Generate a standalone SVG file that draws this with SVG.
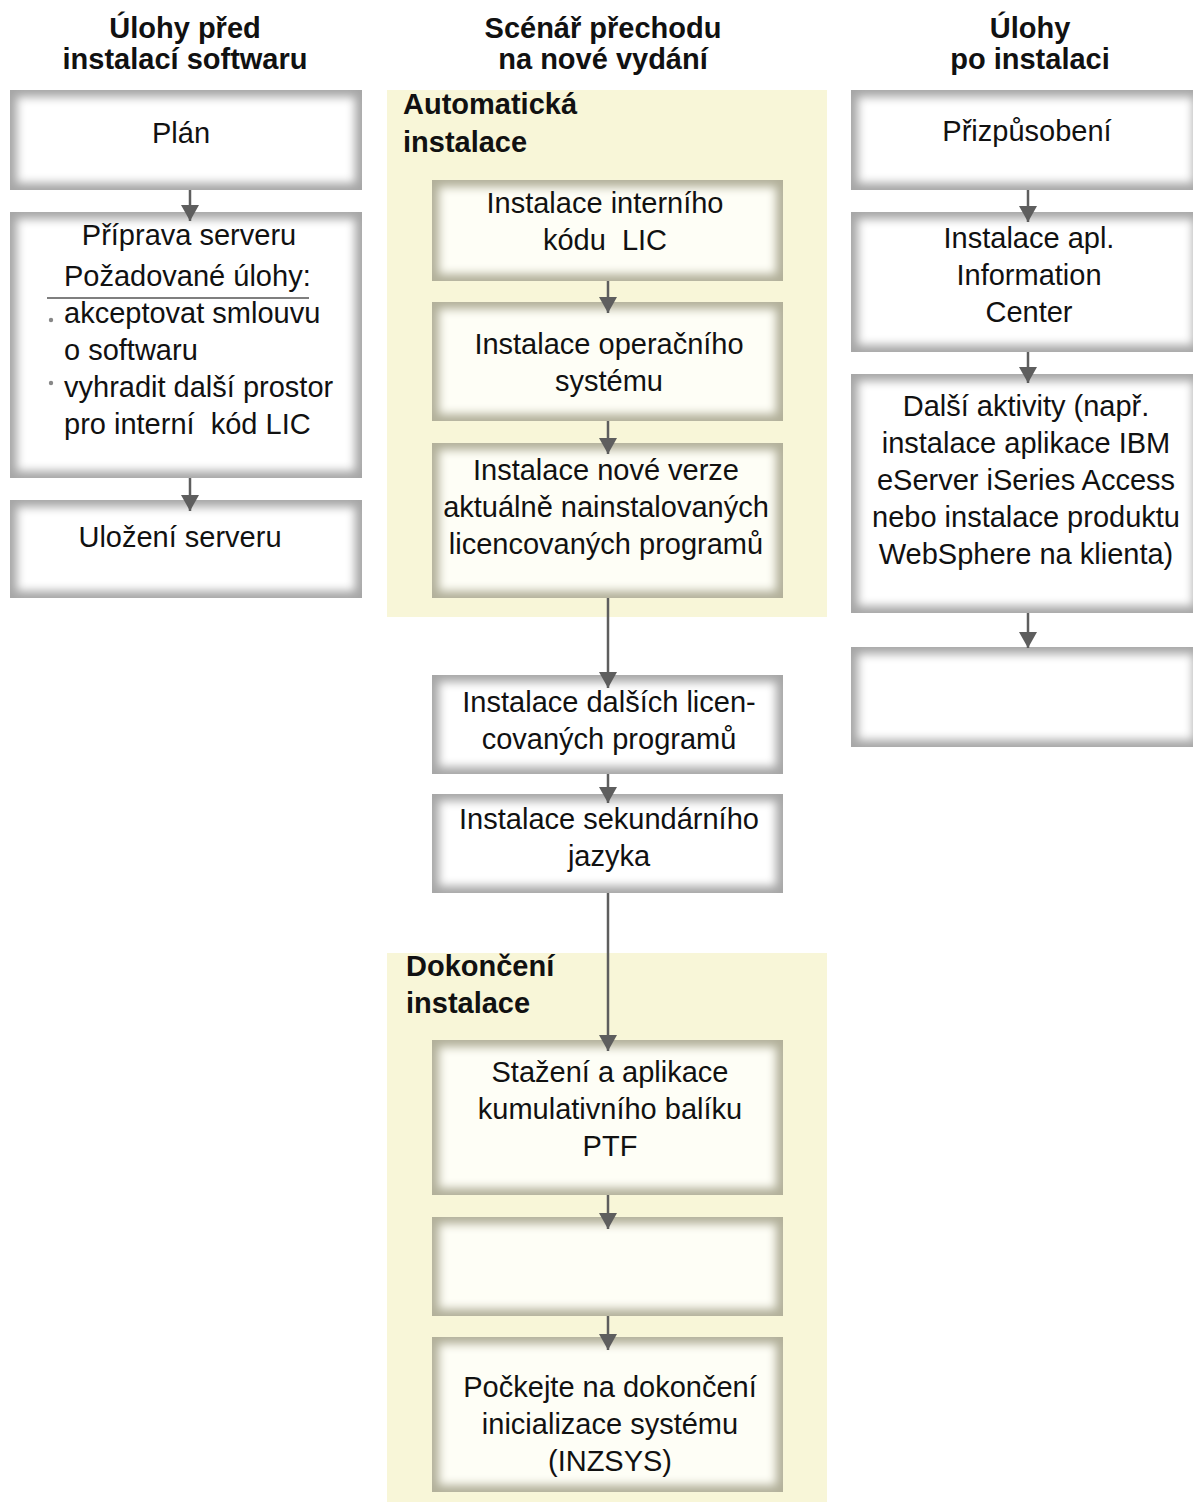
<svg xmlns="http://www.w3.org/2000/svg" width="1193" height="1502" viewBox="0 0 1193 1502">
<defs>
<filter id="soft" x="-10%" y="-10%" width="120%" height="120%"><feGaussianBlur stdDeviation="5"/></filter>
<marker id="ah" markerWidth="16" markerHeight="18" refX="16" refY="9" orient="auto" markerUnits="userSpaceOnUse" viewBox="0 0 16 18"><path d="M0,0 L16,9 L0,18 Z" fill="#5e5e5e"/></marker>
</defs>
<style>
text{white-space:pre}
.t{font-family:"Liberation Sans",Arial,sans-serif;font-size:29px;fill:#111}
.c{text-anchor:middle}
.h{font-family:"Liberation Sans",Arial,sans-serif;font-size:29px;font-weight:bold;fill:#111}
.edge{fill:#a6a6a6}
.edgey{fill:#b2b09a}
.inner{fill:#fff;filter:url(#soft)}
.inny{fill:#fefef6;filter:url(#soft)}
.conn{stroke:#5e5e5e;stroke-width:2.5;fill:none;marker-end:url(#ah)}
</style>
<rect width="1193" height="1502" fill="#fff"/>
<g id="zones">
<rect x="387" y="90" width="440" height="527" fill="#f8f6d8"/>
<rect x="387" y="953" width="440" height="549" fill="#f8f6d8"/>
</g>
<g id="headers">
<text class="h c" x="185" y="38">Úlohy před</text>
<text class="h c" x="185" y="69">instalací softwaru</text>
<text class="h c" x="603" y="38">Scénář přechodu</text>
<text class="h c" x="603" y="69">na nové vydání</text>
<text class="h c" x="1030" y="38">Úlohy</text>
<text class="h c" x="1030" y="69">po instalaci</text>
<text class="h" x="403" y="114">Automatická</text>
<text class="h" x="403" y="152">instalace</text>
<text class="h" x="406" y="976">Dokončení</text>
<text class="h" x="406" y="1013">instalace</text>
</g>
<g id="n-plan"><rect class="edge" x="10" y="90" width="352" height="100"/><rect class="inner" x="17" y="97" width="338" height="86"/><text class="t c" x="181" y="143">Plán</text></g>
<g id="n-priprava"><rect class="edge" x="10" y="212" width="352" height="266"/><rect class="inner" x="17" y="219" width="338" height="252"/>
<text class="t c" x="189" y="245">Příprava serveru</text>
<text class="t" x="64" y="286">Požadované úlohy:</text>
<line x1="47" y1="298" x2="309" y2="298" stroke="#555" stroke-width="1.5"/>
<circle cx="51" cy="320" r="2.2" fill="#888"/>
<text class="t" x="64" y="323">akceptovat smlouvu</text>
<text class="t" x="64" y="360">o softwaru</text>
<circle cx="51" cy="383" r="2.2" fill="#888"/>
<text class="t" x="64" y="397">vyhradit další prostor</text>
<text class="t" x="64" y="434">pro interní  kód LIC</text></g>
<g id="n-ulozeni"><rect class="edge" x="10" y="500" width="352" height="98"/><rect class="inner" x="17" y="507" width="338" height="84"/><text class="t c" x="180" y="547">Uložení serveru</text></g>
<g id="n-lic"><rect class="edgey" x="432" y="180" width="351" height="101"/><rect class="inny" x="439" y="187" width="337" height="87"/><text class="t c" x="605" y="213">Instalace interního</text><text class="t c" x="605" y="250">kódu  LIC</text></g>
<g id="n-os"><rect class="edgey" x="432" y="302" width="351" height="119"/><rect class="inny" x="439" y="309" width="337" height="105"/><text class="t c" x="609" y="354">Instalace operačního</text><text class="t c" x="609" y="391">systému</text></g>
<g id="n-nova"><rect class="edgey" x="432" y="443" width="351" height="155"/><rect class="inny" x="439" y="450" width="337" height="141"/><text class="t c" x="606" y="480">Instalace nové verze</text><text class="t c" x="606" y="517">aktuálně nainstalovaných</text><text class="t c" x="606" y="554">licencovaných programů</text></g>
<g id="n-dalsi"><rect class="edge" x="432" y="675" width="351" height="99"/><rect class="inner" x="439" y="682" width="337" height="85"/><text class="t c" x="609" y="712">Instalace dalších licen-</text><text class="t c" x="609" y="749">covaných programů</text></g>
<g id="n-jazyk"><rect class="edge" x="432" y="794" width="351" height="99"/><rect class="inner" x="439" y="801" width="337" height="85"/><text class="t c" x="609" y="829">Instalace sekundárního</text><text class="t c" x="609" y="866">jazyka</text></g>
<g id="n-ptf"><rect class="edgey" x="432" y="1040" width="351" height="155"/><rect class="inny" x="439" y="1047" width="337" height="141"/><text class="t c" x="610" y="1082">Stažení a aplikace</text><text class="t c" x="610" y="1119">kumulativního balíku</text><text class="t c" x="610" y="1156">PTF</text></g>
<g id="n-empty1"><rect class="edgey" x="432" y="1217" width="351" height="99"/><rect class="inny" x="439" y="1224" width="337" height="85"/></g>
<g id="n-inzsys"><rect class="edgey" x="432" y="1337" width="351" height="155"/><rect class="inny" x="439" y="1344" width="337" height="141"/><text class="t c" x="610" y="1397">Počkejte na dokončení</text><text class="t c" x="610" y="1434">inicializace systému</text><text class="t c" x="610" y="1471">(INZSYS)</text></g>
<g id="n-prizp"><rect class="edge" x="851" y="90" width="342" height="100"/><rect class="inner" x="858" y="97" width="335" height="86"/><text class="t c" x="1027" y="141">Přizpůsobení</text></g>
<g id="n-ic"><rect class="edge" x="851" y="212" width="342" height="140"/><rect class="inner" x="858" y="219" width="335" height="126"/><text class="t c" x="1029" y="248">Instalace apl.</text><text class="t c" x="1029" y="285">Information</text><text class="t c" x="1029" y="322">Center</text></g>
<g id="n-aktiv"><rect class="edge" x="851" y="374" width="342" height="239"/><rect class="inner" x="858" y="381" width="335" height="225"/><text class="t c" x="1026" y="416">Další aktivity (např.</text><text class="t c" x="1026" y="453">instalace aplikace IBM</text><text class="t c" x="1026" y="490">eServer iSeries Access</text><text class="t c" x="1026" y="527">nebo instalace produktu</text><text class="t c" x="1026" y="564">WebSphere na klienta)</text></g>
<g id="n-empty2"><rect class="edge" x="851" y="647" width="342" height="100"/><rect class="inner" x="858" y="654" width="335" height="86"/></g>
<g id="connectors">
<line class="conn" x1="190" y1="190" x2="190" y2="221"/>
<line class="conn" x1="190" y1="478" x2="190" y2="511"/>
<line class="conn" x1="608" y1="281" x2="608" y2="313"/>
<line class="conn" x1="608" y1="421" x2="608" y2="454"/>
<line class="conn" x1="608" y1="598" x2="608" y2="688"/>
<line class="conn" x1="608" y1="774" x2="608" y2="803"/>
<line class="conn" x1="608" y1="893" x2="608" y2="1051"/>
<line class="conn" x1="608" y1="1195" x2="608" y2="1229"/>
<line class="conn" x1="608" y1="1316" x2="608" y2="1350"/>
<line class="conn" x1="1028" y1="190" x2="1028" y2="222"/>
<line class="conn" x1="1028" y1="352" x2="1028" y2="383"/>
<line class="conn" x1="1028" y1="613" x2="1028" y2="648"/>
</g>
</svg>
